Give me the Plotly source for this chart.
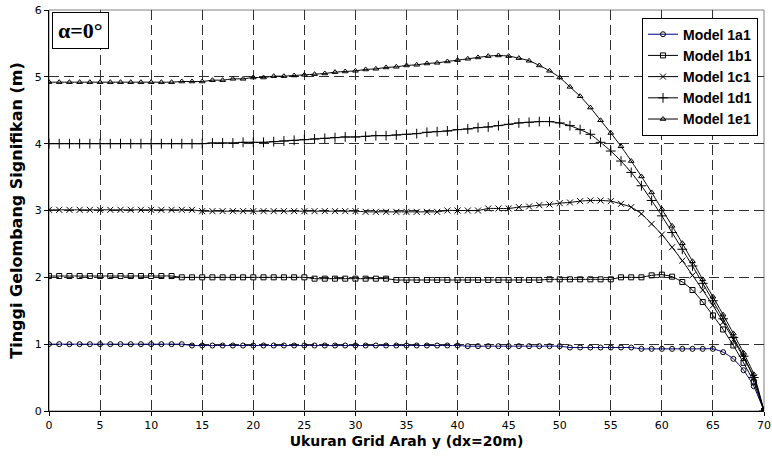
import plotly.graph_objects as go

x_vals = list(range(0, 71))

model_1a1 = [1.00]*14 + [0.98]*27 + [0.97]*10 + [0.95]*7 + [0.93]*8 + [0.88, 0.78, 0.61, 0.37, 0.0]
model_1b1 = [2.02]*13 + [2.00]*13 + [1.98]*8 + [1.96]*15 + [1.97]*7 + [2.00]*3 + \
    [2.03, 2.04, 2.01, 1.93, 1.81, 1.63, 1.43, 1.22, 0.98, 0.72, 0.43, 0.0]
model_1c1 = [3.01]*15 + [2.99]*16 + [2.98]*8 + [3.00]*4 + [3.03]*3 + \
    [3.05, 3.06, 3.08, 3.09, 3.11, 3.12, 3.14, 3.15, 3.15, 3.14, 3.10, 3.05, 2.95,
     2.80, 2.64, 2.45, 2.25, 2.03, 1.81, 1.58, 1.33, 1.07, 0.80, 0.50, 0.0]
model_1d1 = [4.00]*16 + [4.01]*3 + [4.02]*3 + \
    [4.03, 4.04, 4.05, 4.06, 4.07, 4.08, 4.09, 4.10, 4.10, 4.11, 4.12, 4.12, 4.13,
     4.14, 4.15, 4.17, 4.18, 4.19, 4.21, 4.22, 4.24, 4.25, 4.27, 4.29, 4.31, 4.32,
     4.33, 4.33, 4.31, 4.27, 4.21, 4.14, 4.02, 3.89, 3.74, 3.57, 3.37, 3.15, 2.92,
     2.67, 2.42, 2.17, 1.91, 1.65, 1.38, 1.10, 0.82, 0.50, 0.0]
model_1e1 = [4.92]*13 + [4.93]*3 + [4.95]*2 + [4.97]*2 + [4.99]*2 + [5.01]*2 + \
    [5.02, 5.03, 5.04, 5.05, 5.07, 5.08, 5.09, 5.11, 5.12, 5.14, 5.15, 5.17, 5.18,
     5.20, 5.21, 5.23, 5.25, 5.27, 5.29, 5.31, 5.32, 5.31, 5.28, 5.24, 5.17, 5.09,
     4.99, 4.85, 4.71, 4.54, 4.35, 4.16, 3.96, 3.74, 3.51, 3.27, 3.02, 2.77, 2.51,
     2.24, 1.97, 1.71, 1.44, 1.16, 0.87, 0.55, 0.0]

series_names = ["Model 1a1", "Model 1b1", "Model 1c1", "Model 1d1", "Model 1e1"]
series_data = [model_1a1, model_1b1, model_1c1, model_1d1, model_1e1]
series_symbols = ["circle-open", "square-open", "x-thin-open", "cross-thin-open", "triangle-up-open"]
series_line_colors = ["#000080", "#000000", "#000000", "#000000", "#000000"]
series_marker_sizes = [5, 5, 6, 7, 5]

x_ticks = list(range(0, 71, 5))
y_ticks = list(range(0, 7))

fig = go.Figure()
for name, ys, sym, lc, ms in zip(series_names, series_data, series_symbols,
                                 series_line_colors, series_marker_sizes):
    fig.add_trace(go.Scatter(
        x=x_vals, y=ys, name=name, mode="lines+markers",
        line=dict(color=lc, width=1, shape="spline", smoothing=0.6),
        marker=dict(symbol=sym, size=ms, color="#000000",
                    line=dict(color="#000000", width=1)),
    ))

fig.update_layout(
    width=772, height=468,
    margin=dict(l=49, r=8, t=10, b=57),
    paper_bgcolor="white", plot_bgcolor="white",
    font=dict(family="DejaVu Sans, Verdana, sans-serif", size=11, color="#000000"),
    showlegend=True,
    legend=dict(
        x=0.9916, y=0.981, xanchor="right", yanchor="top",
        bgcolor="white", bordercolor="#000000", borderwidth=1,
        font=dict(family="Liberation Sans, Arial, sans-serif", size=14, color="#000000",
                  weight="bold"),
        tracegroupgap=0, itemwidth=30,
    ),
    xaxis=dict(
        range=[0, 70], tickvals=x_ticks, ticks="outside", ticklen=4,
        tickcolor="#000000", showline=True, linecolor="#000000", linewidth=1,
        showgrid=True, gridcolor="#303030", griddash="10px,5px", gridwidth=1,
        zeroline=False, automargin=False,
        title=dict(text="Ukuran Grid Arah y (dx=20m)", standoff=4,
                   font=dict(family="DejaVu Sans, Verdana, sans-serif", size=14,
                             weight="bold")),
    ),
    yaxis=dict(
        range=[0, 6], tickvals=y_ticks, ticks="outside", ticklen=4,
        tickcolor="#000000", showline=True, linecolor="#000000", linewidth=1,
        showgrid=True, gridcolor="#303030", griddash="10px,5px", gridwidth=1,
        zeroline=False, automargin=False,
        title=dict(text="Tinggi Gelombang Signifikan (m)", standoff=8,
                   font=dict(family="DejaVu Sans, Verdana, sans-serif", size=16,
                             weight="bold")),
    ),
    shapes=[dict(type="rect", xref="paper", yref="paper", x0=0, y0=0, x1=1, y1=1,
                 line=dict(color="#808080", width=1), layer="below")],
    annotations=[dict(
        xref="paper", yref="paper", x=0.004, y=0.995, xanchor="left", yanchor="top",
        text="<b>α=0°</b>", showarrow=False,
        font=dict(family="Liberation Serif, Times New Roman, serif", size=22, color="#000000"),
        bgcolor="white", bordercolor="#000000", borderwidth=1, borderpad=5,
    )],
)

fig.write_html("out.html", config={"displayModeBar": False},
               post_script="document.body.style.margin='0';document.body.style.overflow='hidden';")
